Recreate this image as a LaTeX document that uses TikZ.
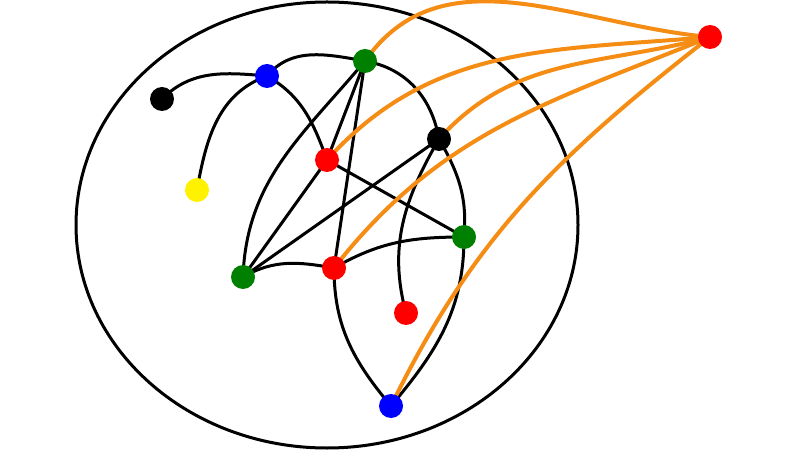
\documentclass[tikz,border=0pt]{standalone}
\usetikzlibrary{backgrounds}
\definecolor{dgreen}{RGB}{0,128,0}
\definecolor{orng}{RGB}{245,140,20}
\begin{document}
\begin{tikzpicture}[x=1pt,y=1pt,
  v/.style={circle,minimum size=24pt,inner sep=0pt,fill=#1},
  e/.style={line width=3pt,black},
  o/.style={line width=4pt,orng}]
\useasboundingbox (0,0) rectangle (800,450);
\node[v=black] (k1) at (162,351) {};
\node[v=blue] (b1) at (267,374) {};
\node[v=dgreen] (g1) at (365,389) {};
\node[v=yellow] (y) at (197,260) {};
\node[v=red] (r1) at (327,290) {};
\node[v=black] (k2) at (439,311) {};
\node[v=dgreen] (g2) at (464,213) {};
\node[v=dgreen] (g3) at (243,173) {};
\node[v=red] (r2) at (334,182) {};
\node[v=red] (r3) at (406,137) {};
\node[v=blue] (b2) at (391,44) {};
\node[v=red] (rx) at (710,413) {};
\begin{scope}[on background layer]
\fill[white] (0,0) rectangle (800,450);
\draw[e] (327,225) ellipse[x radius=251,y radius=223];
\draw[e] (k1.center) to[out=45,in=175] (b1.center);
\draw[e] (y.center) to[out=80,in=200] (b1.center);
\draw[e] (b1.center) to[out=50,in=170] (g1.center);
\draw[e] (b1.center) to[out=-30,in=110] (r1.center);
\draw[e] (g1.center) to[out=-10,in=100] (k2.center);
\draw[e] (g1.center) to[out=230,in=88] (g3.center);
\draw[e] (g1.center) -- (r1.center);
\draw[e] (g1.center) -- (r2.center);
\draw[e] (r1.center) -- (g3.center);
\draw[e] (k2.center) -- (g3.center);
\draw[e] (r1.center) -- (g2.center);
\draw[e] (k2.center) to[out=240,in=105] (r3.center);
\draw[e] (k2.center) to[out=-60,in=85] (g2.center);
\draw[e] (g3.center) to[out=30,in=170] (r2.center);
\draw[e] (r2.center) to[out=30,in=180] (g2.center);
\draw[e] (r2.center) to[out=-90,in=130] (b2.center);
\draw[e] (g2.center) to[out=-90,in=50] (b2.center);
\draw[o] (g1.center) to[out=55,in=175] (rx.center);
\draw[o] (r1.center) to[out=48,in=185] (rx.center);
\draw[o] (k2.center) to[out=48,in=195] (rx.center);
\draw[o] (r2.center) to[out=52,in=202] (rx.center);
\draw[o] (b2.center) to[out=64,in=218] (rx.center);
\end{scope}
\end{tikzpicture}
\end{document}
